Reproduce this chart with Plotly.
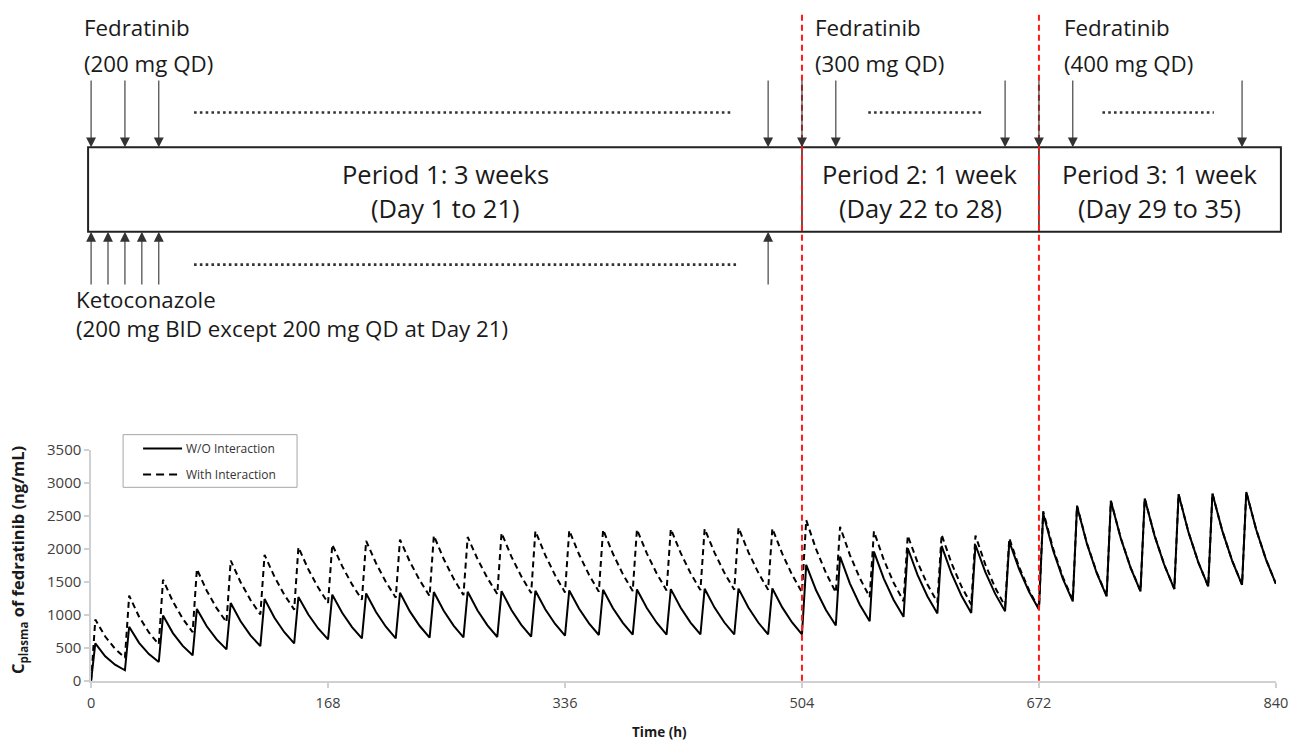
import plotly.graph_objects as go

W, H = 1302, 747
# The page keeps the browser's default 8 px body margin and the capture is
# scaled slightly, so target pixels are mapped into figure pixels below.
MARGIN = 8
SX, SY = (W + 2 * MARGIN) / W, (H + 2 * MARGIN) / H

# ---------------- data ----------------
dose_times = [i * 24 for i in range(35)]          # fedratinib QD doses (h)
sample_offsets = [0, 3, 10, 17]                    # pre-dose, peak, two decay points (h after dose)
end_time = 840

wo_trough = [0, 161, 286, 387, 477, 527, 568, 628, 643, 645,
             655, 660, 665, 670, 685, 695, 700, 702, 703, 703,
             703, 703, 839, 904, 970, 1020, 1030, 1054, 1080, 1205,
             1280, 1356, 1391, 1431, 1456]
wo_peak = [568, 820, 990, 1090, 1180, 1240, 1271, 1306, 1325, 1335,
           1345, 1350, 1360, 1365, 1370, 1380, 1385, 1390, 1395, 1398,
           1400, 1757, 1883, 1958, 2009, 2044, 2059, 2110, 2536, 2646,
           2726, 2762, 2827, 2837, 2862]
wo_mid1 = [373, 577, 724, 827, 902, 956, 1005, 1031, 1042, 1053,
           1061, 1066, 1074, 1085, 1093, 1101, 1104, 1108, 1110, 1112,
           1113, 1373, 1474, 1550, 1603, 1627, 1647, 1688, 1979, 2077,
           2160, 2197, 2253, 2272, 2292]
wo_mid2 = [245, 406, 529, 628, 690, 737, 794, 814, 820, 831,
           837, 842, 849, 862, 872, 878, 881, 883, 884, 884,
           885, 1074, 1154, 1226, 1279, 1294, 1318, 1350, 1545, 1631,
           1712, 1748, 1796, 1819, 1836]
wo_end = 1471

with_trough = [0, 352, 553, 738, 889, 1005, 1080, 1180, 1230, 1260,
               1285, 1300, 1316, 1330, 1340, 1350, 1360, 1370, 1375, 1380,
               1380, 1340, 1340, 1271, 1205, 1190, 1155, 1130, 1095, 1225,
               1290, 1360, 1393, 1432, 1457]
with_peak = [929, 1291, 1532, 1693, 1823, 1908, 2024, 2065, 2120, 2140,
             2200, 2180, 2240, 2270, 2280, 2290, 2295, 2300, 2305, 2320,
             2310, 2435, 2334, 2265, 2200, 2215, 2200, 2160, 2570, 2655,
             2730, 2765, 2829, 2838, 2863]
with_mid1 = [672, 973, 1201, 1366, 1495, 1578, 1691, 1738, 1783, 1805,
             1846, 1843, 1883, 1905, 1915, 1925, 1932, 1938, 1943, 1951,
             1927, 1995, 1906, 1835, 1792, 1783, 1762, 1722, 2008, 2087,
             2165, 2200, 2255, 2273, 2294]
with_mid2 = [486, 733, 942, 1102, 1226, 1305, 1413, 1462, 1499, 1523,
             1549, 1557, 1583, 1598, 1608, 1618, 1627, 1632, 1637, 1641,
             1607, 1635, 1556, 1487, 1460, 1435, 1411, 1373, 1569, 1641,
             1717, 1751, 1797, 1820, 1838]
with_end = 1472

series_names = ["W/O Interaction", "With Interaction"]
x_ticks = [0, 168, 336, 504, 672, 840]
y_ticks = [0, 500, 1000, 1500, 2000, 2500, 3000, 3500]
period_bounds = [0, 504, 672, 840]
period_titles = ["Period 1: 3 weeks", "Period 2: 1 week", "Period 3: 1 week"]
period_days = ["(Day 1 to 21)", "(Day 22 to 28)", "(Day 29 to 35)"]
fed_labels = ["Fedratinib", "Fedratinib", "Fedratinib"]
fed_doses = ["(200 mg QD)", "(300 mg QD)", "(400 mg QD)"]
fed_arrow_times = [0, 24, 48, 480, 504, 528, 648, 672, 696, 816]
keto_arrow_times = [0, 12, 24, 36, 48, 480]
keto_label = "Ketoconazole"
keto_dose = "(200 mg BID except 200 mg QD at Day 21)"


def build(trough, peak, mid1, mid2, end):
    t, c = [], []
    vals = list(zip(trough, peak, mid1, mid2))
    for d, v in zip(dose_times, vals):
        for off, val in zip(sample_offsets, v):
            t.append(d + off)
            c.append(val)
    t.append(end_time)
    c.append(end)
    return t, c


t_wo, c_wo = build(wo_trough, wo_peak, wo_mid1, wo_mid2, wo_end)
t_with, c_with = build(with_trough, with_peak, with_mid1, with_mid2, with_end)


# ---------------- layout geometry (target pixels -> paper) ----------------
def px(X):
    return (X * SX - MARGIN) / W


def py(Y):
    return 1 - (Y * SY - MARGIN) / H


XD = [px(95), px(1280)]
YD = [py(681.7), py(449.3)]


def hx(h):
    return XD[0] + (h - x_ticks[0]) / (x_ticks[-1] - x_ticks[0]) * (XD[1] - XD[0])


FONT = "Open Sans"
PER = 25.5
LAB = 22.3
TXT = "#1a1a1a"
DASH = "6px,4px"

fig = go.Figure()
fig.add_trace(go.Scatter(x=t_wo, y=c_wo, mode="lines", name=series_names[0],
                         showlegend=False, line=dict(color="black", width=2)))
fig.add_trace(go.Scatter(x=t_with, y=c_with, mode="lines", name=series_names[1],
                         showlegend=False, line=dict(color="black", width=2, dash=DASH)))

shapes = []
ann = []

# schematic box
top, bot = py(145), py(230)
bl, br = px(92), px(1285)
shapes.append(dict(type="rect", xref="paper", yref="paper", x0=bl, x1=br, y0=bot, y1=top,
                   line=dict(color="#222", width=2), layer="below"))
for b in period_bounds[1:-1]:
    shapes.append(dict(type="line", xref="paper", yref="paper", x0=hx(b), x1=hx(b),
                       y0=bot, y1=top, line=dict(color="#222", width=1.5)))

# red dashed period separators
for b in period_bounds[1:-1]:
    shapes.append(dict(type="line", xref="x", yref="paper", x0=b, x1=b, y0=YD[0], y1=1,
                       line=dict(color="#ff1a1a", width=2, dash=DASH)))

# dotted "..." lines
dot_style = dict(color="#333", width=2.6, dash="2.6px,3.2px")
for a, b in [(73, 454), (551, 631), (717, 796)]:
    shapes.append(dict(type="line", xref="paper", yref="paper", x0=hx(a), x1=hx(b),
                       y0=py(110), y1=py(110), line=dot_style))
shapes.append(dict(type="line", xref="paper", yref="paper", x0=hx(73), x1=hx(459),
                   y0=py(263), y1=py(263), line=dot_style))

# arrows
arrow_style = dict(showarrow=True, arrowhead=2, arrowsize=1.8, arrowwidth=1.1,
                   arrowcolor="#333", standoff=0, text="")
for h in fed_arrow_times:
    ann.append(dict(xref="paper", yref="paper", x=hx(h), y=top, ax=0, ay=-67 * SY,
                    **arrow_style))
for h in keto_arrow_times:
    ann.append(dict(xref="paper", yref="paper", x=hx(h), y=bot, ax=0, ay=53 * SY,
                    **arrow_style))

# period texts
for i in range(3):
    left = bl if i == 0 else hx(period_bounds[i])
    right = br if i == 2 else hx(period_bounds[i + 1])
    cx = (left + right) / 2
    ann.append(dict(xref="paper", yref="paper", x=cx, y=py(172), text=period_titles[i],
                    showarrow=False, xanchor="center", yanchor="middle",
                    font=dict(family=FONT, size=PER, color=TXT)))
    ann.append(dict(xref="paper", yref="paper", x=cx, y=py(206), text=period_days[i],
                    showarrow=False, xanchor="center", yanchor="middle",
                    font=dict(family=FONT, size=PER, color=TXT)))

# fedratinib labels
fed_label_px = [86, 817, 1066]
for i in range(3):
    ann.append(dict(xref="paper", yref="paper", x=px(fed_label_px[i]), y=py(24),
                    text=fed_labels[i], showarrow=False, xanchor="left", yanchor="middle",
                    font=dict(family=FONT, size=LAB, color=TXT)))
    ann.append(dict(xref="paper", yref="paper", x=px(fed_label_px[i]), y=py(61),
                    text=fed_doses[i], showarrow=False, xanchor="left", yanchor="middle",
                    font=dict(family=FONT, size=LAB, color=TXT)))
ann.append(dict(xref="paper", yref="paper", x=px(78), y=py(313),
                text=keto_label + "<br>" + keto_dose, align="left",
                showarrow=False, xanchor="left", yanchor="middle",
                font=dict(family=FONT, size=LAB, color=TXT)))

# axis titles
ann.append(dict(xref="paper", yref="paper", x=px(22), y=py(560),
                text="<b>C<sub>plasma</sub> of fedratinib (ng/mL)</b>", textangle=-90,
                showarrow=False, xanchor="center", yanchor="middle",
                font=dict(family=FONT, size=16.5, color=TXT)))
ann.append(dict(xref="paper", yref="paper", x=px(664), y=py(733), text="<b>Time (h)</b>",
                showarrow=False, xanchor="center", yanchor="middle",
                font=dict(family=FONT, size=13.5, color=TXT)))

# legend (drawn box, sample lines and labels)
shapes.append(dict(type="rect", xref="paper", yref="paper", x0=px(127), x1=px(301),
                   y0=py(487), y1=py(434), line=dict(color="#a6a6a6", width=1),
                   fillcolor="white"))
leg_y = [448, 474]
leg_dash = ["solid", "8px,5px"]
for name, yy, dsh in zip(series_names, leg_y, leg_dash):
    shapes.append(dict(type="line", xref="paper", yref="paper", x0=px(147), x1=px(186),
                       y0=py(yy), y1=py(yy), line=dict(color="black", width=2, dash=dsh)))
    ann.append(dict(xref="paper", yref="paper", x=px(188), y=py(yy), text=name,
                    showarrow=False, xanchor="left", yanchor="middle",
                    font=dict(family=FONT, size=12, color="#333")))

axis_common = dict(showline=True, linecolor="#d0d0d0", linewidth=1.5,
                   ticks="outside", ticklen=5, tickcolor="#d0d0d0", tickwidth=1.5,
                   showgrid=False, zeroline=False)

fig.update_layout(
    width=W, height=H, margin=dict(l=0, r=0, t=0, b=0),
    paper_bgcolor="white", plot_bgcolor="white",
    font=dict(family=FONT, color="#404040"),
    shapes=shapes, annotations=ann, showlegend=False,
    xaxis=dict(domain=XD, range=[x_ticks[0], x_ticks[-1]], tickvals=x_ticks,
               ticklabelstandoff=3,
               tickfont=dict(family=FONT, size=14.5, color="#404040"), **axis_common),
    yaxis=dict(domain=YD, range=[y_ticks[0], y_ticks[-1]], tickvals=y_ticks,
               tickfont=dict(family=FONT, size=15, color="#404040"), **axis_common),
)

fig.write_html("out.html")
